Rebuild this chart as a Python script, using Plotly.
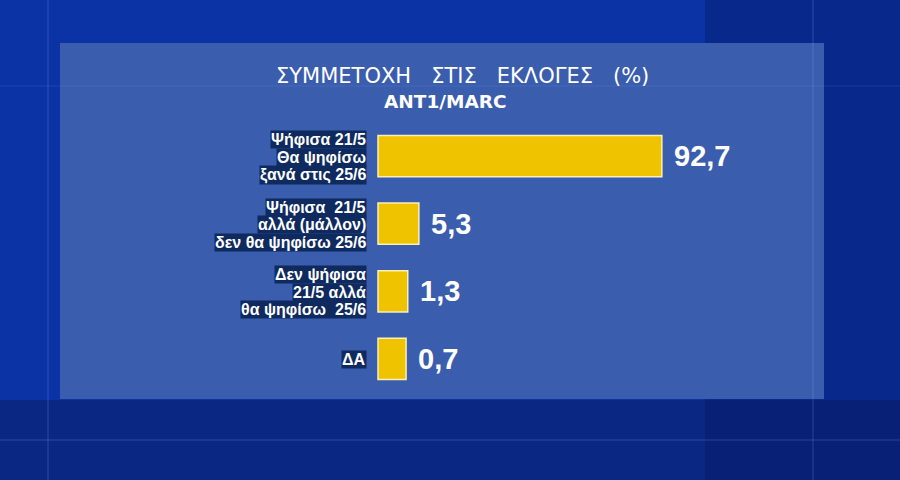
import plotly.graph_objects as go

categories = [
    "Ψήφισα 21/5<br>Θα ψηφίσω<br>ξανά στις 25/6",
    "Ψήφισα  21/5<br>αλλά (μάλλον)<br>δεν θα ψηφίσω 25/6",
    "Δεν ψήφισα<br>21/5 αλλά<br>θα ψηφίσω  25/6",
    "ΔΑ",
]
values = [92.7, 5.3, 1.3, 0.7]
stub = 9.4  # visual minimum stub length of each bar (infographic style)

title1 = "ΣΥΜΜΕΤΟΧΗ   ΣΤΙΣ   ΕΚΛΟΓΕΣ   (%)"
title2 = "ANT1/MARC"

W, H = 900, 480
k = 2.78  # px per unit
x0_px = 378
xmin = -stub - x0_px / k
xmax = -stub + (W - x0_px) / k

fig = go.Figure()
fig.add_trace(go.Bar(
    y=categories,
    x=[v + stub for v in values],
    base=[-stub] * len(values),
    orientation="h",
    width=0.61,
    marker=dict(color="#f0c300", line=dict(color="#fbf0b8", width=1.5)),
    hoverinfo="skip",
))

ann = []
# title
ann.append(dict(text=title1, x=462 / W, y=1 - 90 / H, xref="paper", yref="paper",
                showarrow=False, font=dict(family="DejaVu Sans", size=21, color="white"),
                xanchor="center", yanchor="bottom"))
ann.append(dict(text="<b>" + title2 + "</b>", x=445 / W, y=1 - 89 / H, xref="paper", yref="paper",
                showarrow=False, font=dict(family="DejaVu Sans", size=18.5, color="white"),
                xanchor="center", yanchor="top"))

# category labels, one navy box per line
for cat in categories:
    lines = cat.split("<br>")
    n = len(lines)
    for i, ln in enumerate(lines):
        off = (i - (n - 1) / 2) * 17.5
        ann.append(dict(text="<b>" + ln + "</b>", x=367 / W, y=cat, xref="paper", yref="y",
                        yshift=-off - 1, showarrow=False, xanchor="right", yanchor="middle",
                        bgcolor="#0f2a5e", borderpad=0,
                        font=dict(family="Liberation Sans", size=16, color="white")))

# value labels
for cat, v in zip(categories, values):
    ann.append(dict(text="<b>" + f"{v:.1f}".replace(".", ",") + "</b>", x=v, y=cat,
                    xref="x", yref="y", xshift=10, showarrow=False, xanchor="left",
                    yanchor="middle", font=dict(family="Liberation Sans", size=29, color="white")))

shapes = [
    # darker background areas
    dict(type="rect", xref="paper", yref="paper", x0=0, x1=1, y0=0, y1=1 - 400 / H,
         fillcolor="#0a2784", line_width=0, layer="below"),
    dict(type="rect", xref="paper", yref="paper", x0=705 / W, x1=1, y0=0, y1=1,
         fillcolor="rgba(5,20,90,0.35)", line_width=0, layer="below"),
    # translucent panel
    dict(type="rect", xref="paper", yref="paper", x0=60 / W, x1=824 / W,
         y0=1 - 399 / H, y1=1 - 43 / H, fillcolor="#3a5dae", line_width=0, layer="below"),
    # faint grid lines
    dict(type="line", xref="paper", yref="paper", x0=48 / W, x1=48 / W, y0=0, y1=1,
         line=dict(color="rgba(150,180,255,0.25)", width=1), layer="below"),
    dict(type="line", xref="paper", yref="paper", x0=813 / W, x1=813 / W, y0=0, y1=1,
         line=dict(color="rgba(150,180,255,0.25)", width=1), layer="below"),
    dict(type="line", xref="paper", yref="paper", x0=0, x1=1, y0=1 - 440 / H, y1=1 - 440 / H,
         line=dict(color="rgba(150,180,255,0.25)", width=1), layer="below"),
    dict(type="line", xref="paper", yref="paper", x0=0, x1=1, y0=1 - 86 / H, y1=1 - 86 / H,
         line=dict(color="rgba(150,180,255,0.12)", width=1), layer="below"),
]

fig.update_layout(
    width=W, height=H,
    margin=dict(l=0, r=0, t=0, b=0),
    paper_bgcolor="#0c33a6",
    plot_bgcolor="rgba(0,0,0,0)",
    showlegend=False,
    xaxis=dict(range=[xmin, xmax], visible=False, fixedrange=True, domain=[0, 1]),
    yaxis=dict(autorange="reversed", visible=False, fixedrange=True,
               domain=[1 - 392.8 / H, 1 - 122.2 / H]),
    annotations=ann,
    shapes=shapes,
    bargap=0.39,
)

fig.write_html("out.html", config={"displayModeBar": False},
               post_script="document.body.style.margin='0';")
